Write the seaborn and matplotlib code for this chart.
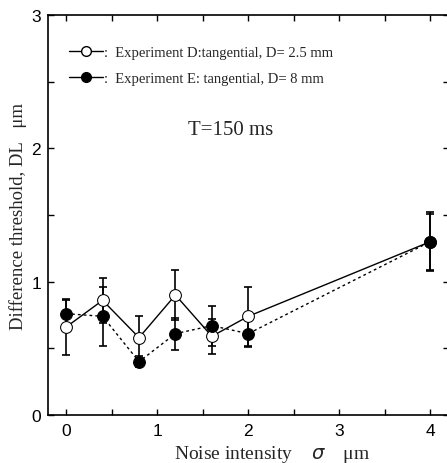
import matplotlib
matplotlib.use('Agg')
import matplotlib.pyplot as plt
from matplotlib.lines import Line2D
import seaborn as sb
import numpy as np
import pandas as pd

# noise intensity (sigma, um)
noise = [0, 0.4, 0.8, 1.2, 1.6, 2.0, 4.0]

# Experiment D: tangential, D = 2.5 mm (open circles, solid)
thr_d = [0.66, 0.86, 0.58, 0.90, 0.59, 0.74, 1.30]
err_d = [0.21, 0.17, 0.16, 0.19, 0.13, 0.22, 0.21]

# Experiment E: tangential, D = 8 mm (filled circles, dotted)
thr_e = [0.76, 0.74, 0.40, 0.61, 0.67, 0.61, 1.30]
err_e = [0.10, 0.22, 0.04, 0.12, 0.15, 0.10, 0.22]

label_d = ':  Experiment D:tangential, D= 2.5 mm'
label_e = ':  Experiment E: tangential, D= 8 mm'

df = pd.DataFrame({
    'noise': noise * 2,
    'thr': thr_d + thr_e,
    'err': err_d + err_e,
    'exp': [label_d] * len(noise) + [label_e] * len(noise),
})

sb.set_style('ticks')
plt.rcParams['font.family'] = ['Liberation Sans', 'DejaVu Sans']

fig = plt.figure(figsize=(4.47, 4.64), dpi=100)
ax = fig.add_axes([48 / 447, 1 - 416 / 464, 400.5 / 447, 400 / 464])

sb.lineplot(data=df, x='noise', y='thr', hue='exp', style='exp',
            palette=['black', 'black'], dashes=[(None, None), (2, 2)],
            markers=['o', 'o'], markersize=8.5, linewidth=1, ax=ax, zorder=3,
            legend=False)

# open markers for D, filled for E
lines = ax.get_lines()
lines[0].set_markerfacecolor('white')
lines[0].set_markeredgecolor('black')
lines[1].set_markerfacecolor('black')
lines[1].set_markeredgecolor('black')
lines[1].set_linestyle((0, (2, 2.2)))

for lab, grp in df.groupby('exp', sort=False):
    ax.errorbar(grp['noise'], grp['thr'], yerr=grp['err'], fmt='none',
                ecolor='black', elinewidth=1.2, capsize=3, capthick=1.2, zorder=2)

handles = [Line2D([], [], color='black', lw=1, marker='o', mfc='white', mec='black', ms=7),
           Line2D([], [], color='black', lw=1, marker='o', mfc='black', mec='black', ms=7)]
ax.legend(handles, [label_d, label_e], loc='upper left', bbox_to_anchor=(0.02, 0.955),
          frameon=False, handlelength=2.3, handletextpad=0.1, labelspacing=0.85,
          prop={'family': 'Liberation Serif', 'size': 10.5})

ax.text(1.81, 2.14, 'T=150 ms', ha='center', va='center',
        family='Liberation Serif', fontsize=15)

ax.set_xlim(-0.2, 4.2)
ax.set_ylim(0, 3)
ax.set_xticks([0, 1, 2, 3, 4])
ax.set_xticks(np.arange(0, 4.5, 0.5), minor=True)
ax.set_yticks([0, 1, 2, 3])
ax.set_yticks(np.arange(0, 3.01, 0.5), minor=True)
ax.tick_params(which='both', direction='in', top=True, right=True, length=4,
               width=1, labelsize=12.5, colors='black')
ax.tick_params(axis='x', pad=6)
ax.tick_params(axis='y', pad=5)
for s in ax.spines.values():
    s.set_linewidth(1.2)
    s.set_color('black')

ax.set_xlabel('Noise intensity    $\\sigma$    \u03bcm', family='Liberation Serif',
              fontsize=14, labelpad=2)
ax.xaxis.set_label_coords(0.56, -0.07)
ax.set_ylabel('Difference threshold, DL   \u03bcm', family='Liberation Serif',
              fontsize=13.5, labelpad=3)

fig.savefig('out.png', dpi=100)
